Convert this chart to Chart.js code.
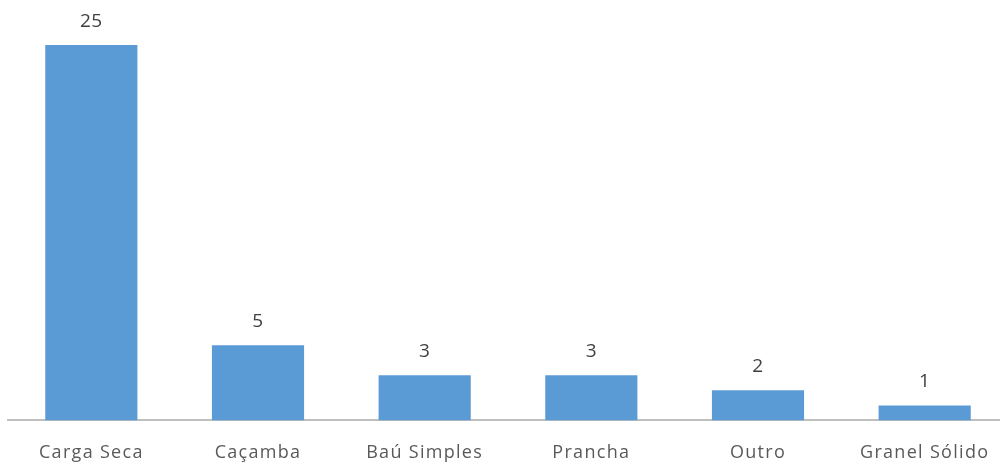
<!DOCTYPE html>
<html>
<head>
<meta charset="utf-8">
<script src="https://cdn.jsdelivr.net/npm/chart.js@4/dist/chart.umd.min.js"></script>
<style>
  html, body { margin: 0; padding: 0; background: #fff; overflow: hidden; }
  #wrap { width: 1000px; height: 466px; overflow: hidden; }
</style>
</head>
<body>
<div id="wrap"><canvas id="moncanvas" width="1008" height="478"></canvas></div>
<script>
const labels = ['Carga Seca', 'Caçamba', 'Baú Simples', 'Prancha', 'Outro', 'Granel Sólido'];
const valeurs = [25, 5, 3, 3, 2, 1];

// espacement des lettres, comme dans l'original
const espacement = {
    id: 'espacement',
    beforeInit(chart) { chart.ctx.letterSpacing = '1.3px'; },
    beforeDraw(chart) { chart.ctx.letterSpacing = '1.3px'; }
};

// étiquettes de valeur au-dessus des barres
const etiquettes = {
    id: 'etiquettes',
    afterDatasetsDraw(chart) {
        const ctx = chart.ctx;
        const meta = chart.getDatasetMeta(0);
        ctx.save();
        ctx.letterSpacing = '0.5px';
        ctx.font = '19px "Open Sans"';
        ctx.fillStyle = '#404040';
        ctx.textAlign = 'center';
        ctx.textBaseline = 'bottom';
        meta.data.forEach(function (bar, i) {
            ctx.fillText(valeurs[i], bar.x, bar.y - 14);
        });
        ctx.restore();
    }
};

const data = {
    labels: labels,
    datasets: [{
        backgroundColor: '#5B9BD5',
        borderWidth: 0,
        data: valeurs,
        categoryPercentage: 1,
        barPercentage: 0.553
    }]
};

const config = {
    type: 'bar',
    data: data,
    options: {
        responsive: false,
        animation: false,
        layout: { padding: { top: 45, left: 8, right: 0, bottom: 0 } },
        plugins: { legend: { display: false }, tooltip: { enabled: false } },
        scales: {
            x: {
                grid: { display: false },
                border: { display: true, color: '#BFBFBF', width: 2 },
                ticks: { color: '#595959', font: { family: 'Open Sans', size: 18 }, padding: 14 }
            },
            y: {
                display: false,
                min: 0,
                max: 25
            }
        }
    },
    plugins: [espacement, etiquettes]
};

const myChart = new Chart(document.querySelector('#moncanvas'), config);
</script>
</body>
</html>
